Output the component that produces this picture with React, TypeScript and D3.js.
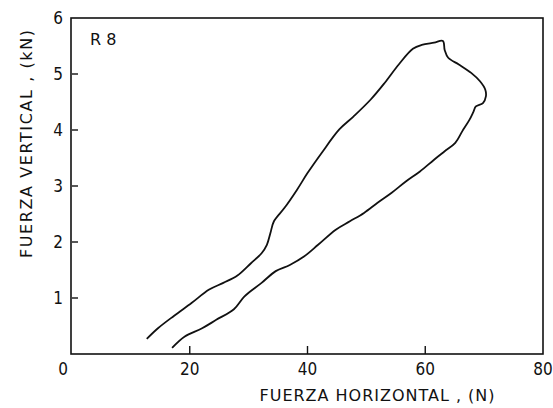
import { useEffect, useRef } from 'react';
import * as d3 from 'd3';

// Loop: horizontal force (N) vs vertical force (kN)
const fuerzaH = [
  12.7, 14.6, 17.3, 20.3, 23.3, 25.7, 28.1, 30.4, 32.2, 33.1, 33.7, 34.3, 36.1, 38.2, 40.0,
  42.4, 45.4, 47.8, 50.7, 53.1, 55.5, 57.9, 59.4, 61.5, 63.0, 63.3, 63.9, 65.7, 67.8, 69.3,
  70.2, 70.3, 69.8, 68.6, 68.2, 67.5, 66.3, 65.1, 63.3, 61.5, 59.1, 56.7, 54.3, 51.9, 49.6,
  47.2, 44.8, 41.8, 39.4, 37.0, 34.6, 32.2, 29.3, 27.5, 24.5, 22.1, 19.1, 17.0,
];
const fuerzaV = [
  0.27, 0.46, 0.68, 0.91, 1.15, 1.27, 1.40, 1.62, 1.80, 1.95, 2.16, 2.37, 2.61, 2.93, 3.23,
  3.59, 4.01, 4.24, 4.54, 4.84, 5.17, 5.45, 5.52, 5.56, 5.59, 5.43, 5.29, 5.17, 5.02, 4.87,
  4.72, 4.60, 4.48, 4.42, 4.33, 4.18, 3.98, 3.77, 3.62, 3.47, 3.26, 3.08, 2.88, 2.70, 2.52,
  2.37, 2.22, 1.95, 1.74, 1.59, 1.48, 1.27, 1.03, 0.80, 0.61, 0.46, 0.31, 0.11,
];
const xTicks = [0, 20, 40, 60, 80];
const yTicks = [1, 2, 3, 4, 5, 6];
const label = 'R 8';

export default function App() {
  const ref = useRef<SVGSVGElement>(null);

  useEffect(() => {
    if (!ref.current) return;
    const svg = d3.select(ref.current);
    svg.selectAll('*').remove();

    const font = 'DejaVu Sans, sans-serif';
    const ink = '#111';
    const x = d3.scaleLinear().domain([0, 80]).range([72, 543]);
    const y = d3.scaleLinear().domain([0, 6]).range([354, 18]);

    // frame
    svg.append('rect')
      .attr('x', x(0) - 1).attr('y', y(6))
      .attr('width', x(80) - x(0) + 1).attr('height', y(0) - y(6))
      .attr('fill', 'none').attr('stroke', ink).attr('stroke-width', 1.6);

    // x ticks point inward
    const gx = svg.append('g');
    xTicks.filter((d) => d > 0 && d < 80).forEach((d) => {
      gx.append('line')
        .attr('x1', x(d)).attr('x2', x(d))
        .attr('y1', y(0)).attr('y2', y(0) - 8)
        .attr('stroke', ink).attr('stroke-width', 1.4);
    });
    xTicks.forEach((d) => {
      gx.append('text')
        .attr('x', d === 0 ? x(d) - 9 : x(d))
        .attr('y', 375)
        .attr('text-anchor', 'middle')
        .attr('font-family', font).attr('font-stretch', 'condensed')
        .attr('font-size', 17).attr('fill', ink)
        .text(d);
    });

    // y ticks point inward
    const gy = svg.append('g');
    yTicks.forEach((d) => {
      if (d < 6) {
        gy.append('line')
          .attr('x1', x(0)).attr('x2', x(0) + 6)
          .attr('y1', y(d)).attr('y2', y(d))
          .attr('stroke', ink).attr('stroke-width', 1.4);
      }
      gy.append('text')
        .attr('x', 63)
        .attr('y', y(d) + 6)
        .attr('text-anchor', 'end')
        .attr('font-family', font).attr('font-stretch', 'condensed')
        .attr('font-size', 17).attr('fill', ink)
        .text(d);
    });

    // axis titles
    svg.append('text')
      .attr('x', 377).attr('y', 401)
      .attr('text-anchor', 'middle')
      .attr('font-family', font).attr('font-size', 16).attr('fill', ink)
      .attr('textLength', 235).attr('lengthAdjust', 'spacing')
      .text('FUERZA HORIZONTAL , (N)');

    svg.append('text')
      .attr('transform', 'translate(32,144) rotate(-90)')
      .attr('text-anchor', 'middle')
      .attr('font-family', font).attr('font-size', 16).attr('fill', ink)
      .attr('textLength', 228).attr('lengthAdjust', 'spacing')
      .text('FUERZA VERTICAL , (kN)');

    svg.append('text')
      .attr('x', 90).attr('y', 45)
      .attr('font-family', font).attr('font-size', 16).attr('fill', ink)
      .text(label);

    // loop curve
    const pts = fuerzaH.map((h, i) => [h, fuerzaV[i]] as [number, number]);
    const line = d3.line<[number, number]>()
      .x((d) => x(d[0]))
      .y((d) => y(d[1]))
      .curve(d3.curveCatmullRom.alpha(0.5));
    svg.append('path')
      .datum(pts)
      .attr('d', line)
      .attr('fill', 'none')
      .attr('stroke', ink)
      .attr('stroke-width', 1.8)
      .attr('stroke-linejoin', 'round');
  }, []);

  return <svg ref={ref} width={553} height={408} style={{ display: 'block', position: 'absolute', left: 0, top: 0, background: '#fff' }} />;
}
